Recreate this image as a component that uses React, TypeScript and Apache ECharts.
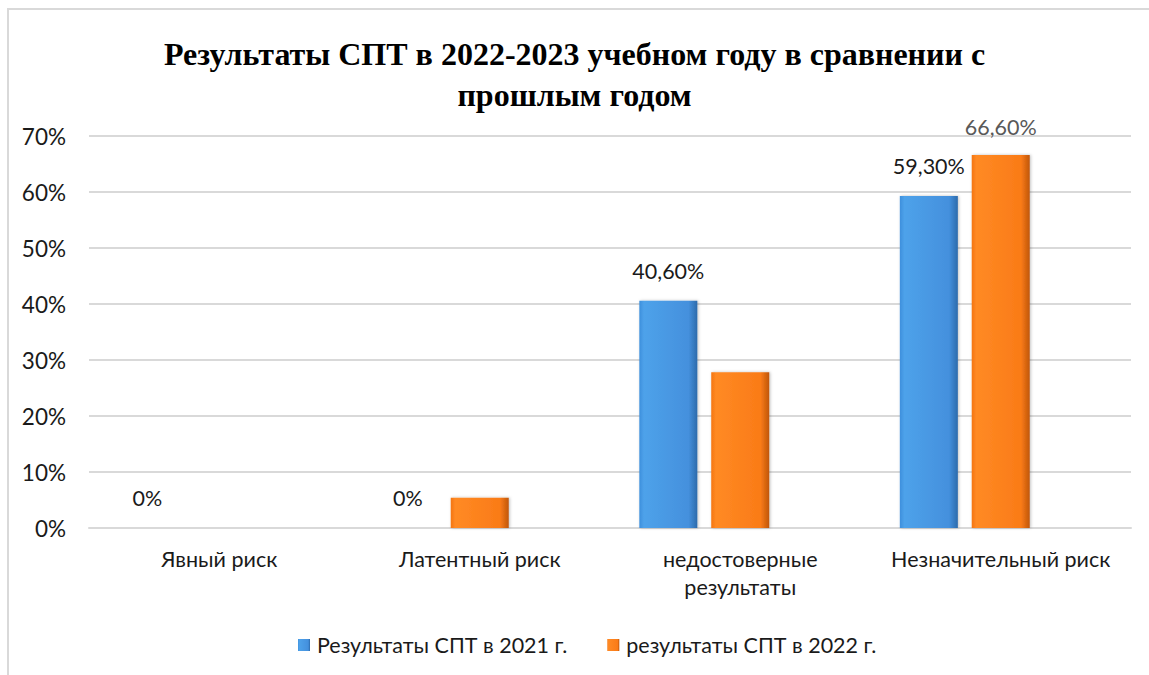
import React, { useEffect, useRef } from "react";
import * as echarts from "echarts";

const categories = ["Явный риск", "Латентный риск", "недостоверные\nрезультаты", "Незначительный риск"];
const seriesNames = ["Результаты СПТ в 2021 г.", "результаты СПТ в 2022 г."];
const values2021 = [0, 0, 40.6, 59.3];
const values2022 = [0, 5.4, 27.8, 66.6];
const showLabel2021 = [true, true, true, true];
const showLabel2022 = [false, false, false, true];
const emptySlot = [null, null, null, null];
const yTicks = { min: 0, max: 70, interval: 10 };

const fmt = (v: number) => (v === 0 ? "0%" : v.toFixed(2).replace(".", ",") + "%");

const blueFill = new echarts.graphic.LinearGradient(0, 0, 1, 0, [
  { offset: 0, color: "#3d8fdc" },
  { offset: 0.08, color: "#4ea2ea" },
  { offset: 0.85, color: "#4490dd" },
  { offset: 1, color: "#2c6aab" },
]);
const orangeFill = new echarts.graphic.LinearGradient(0, 0, 1, 0, [
  { offset: 0, color: "#f4750f" },
  { offset: 0.08, color: "#ff8a24" },
  { offset: 0.85, color: "#fa7b17" },
  { offset: 1, color: "#bf560a" },
]);

export default function App() {
  const ref = useRef<HTMLDivElement>(null);
  useEffect(() => {
    if (!ref.current) return;
    const chart = echarts.init(ref.current, null, { renderer: "svg" });
    const font = "Lato, 'Noto Sans', sans-serif";
    chart.setOption({
      animation: false,
      backgroundColor: "#ffffff",
      graphic: [
        {
          type: "rect",
          shape: { x: 8, y: 9, width: 1300, height: 800 },
          style: { fill: "none", stroke: "#d9d9d9", lineWidth: 2 },
          silent: true,
        },
      ],
      title: {
        text: "Результаты СПТ в 2022-2023 учебном году в сравнении с\nпрошлым годом",
        left: "center",
        top: 28,
        textStyle: {
          fontFamily: "'Liberation Serif', serif",
          fontWeight: "bold",
          fontSize: 32,
          lineHeight: 41,
          color: "#000000",
        },
      },
      legend: {
        data: seriesNames,
        bottom: 14,
        left: 293,
        itemWidth: 12,
        itemHeight: 12,
        itemGap: 40,
        icon: "rect",
        textStyle: { fontFamily: font, fontSize: 21.5, color: "#1a1a1a", padding: [0, 0, 0, 2] },
      },
      grid: { left: 89, right: 18, top: 136, bottom: 147 },
      xAxis: {
        type: "category",
        data: categories,
        axisTick: { show: false },
        axisLine: { show: true, lineStyle: { color: "#d9d9d9", width: 2 } },
        axisLabel: {
          fontFamily: font,
          fontSize: 21.5,
          color: "#1a1a1a",
          margin: 17,
          lineHeight: 28,
          interval: 0,
        },
      },
      yAxis: {
        type: "value",
        min: yTicks.min,
        max: yTicks.max,
        interval: yTicks.interval,
        axisLine: { show: false },
        axisTick: { show: false },
        splitLine: { lineStyle: { color: "#d9d9d9", width: 2 } },
        axisLabel: {
          formatter: "{value}%",
          fontFamily: font,
          fontSize: 22.5,
          color: "#1a1a1a",
          margin: 23,
        },
      },
      series: [
        {
          name: seriesNames[0],
          type: "bar",
          barWidth: 58,
          barGap: "24%",
          itemStyle: { color: blueFill, shadowColor: "rgba(0,0,0,0.25)", shadowBlur: 3, shadowOffsetX: 1 },
          data: values2021.map((v, i) => ({
            value: v,
            label: { show: showLabel2021[i] },
          })),
          label: {
            position: "top",
            distance: 19,
            fontFamily: font,
            fontSize: 21.5,
            color: "#1a1a1a",
            formatter: (p: any) => fmt(p.value),
          },
        },
        {
          name: seriesNames[1],
          type: "bar",
          barWidth: 58,
          barGap: "24%",
          itemStyle: { color: orangeFill, shadowColor: "rgba(0,0,0,0.25)", shadowBlur: 3, shadowOffsetX: 1 },
          data: values2022.map((v, i) => ({
            value: v,
            label: { show: showLabel2022[i] },
          })),
          label: {
            position: "top",
            distance: 17,
            fontFamily: font,
            fontSize: 21.5,
            color: "#595959",
            formatter: (p: any) => fmt(p.value),
          },
        },
        {
          name: "",
          type: "bar",
          barWidth: 58,
          barGap: "24%",
          data: emptySlot,
        },
      ],
    });
    return () => chart.dispose();
  }, []);
  return (
    <div
      ref={ref}
      style={{ position: "fixed", left: 0, top: 0, width: 1149, height: 675, background: "#fff" }}
    />
  );
}
